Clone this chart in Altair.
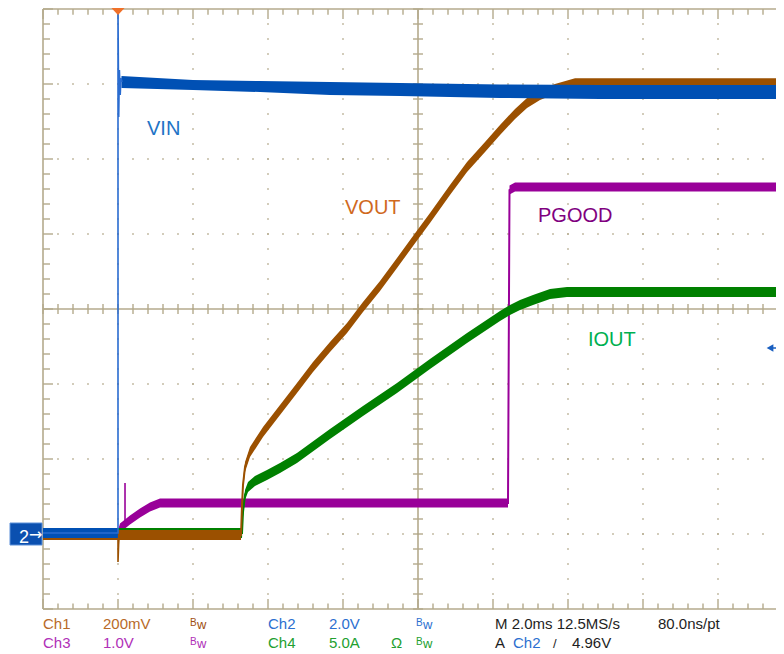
import numpy as np
import pandas as pd
import altair as alt

# ---------------- data (x: time in ms, 2 ms/div, trigger at 0; y: screen divisions 0..8) -------------
# Ch2  VIN  (noise envelope + thin trace with the trigger edge and ringing)
vin_seg = [0, 0, 1, 1, 1, 1, 1, 1, 1, 1]
vin_t = [-2.0, -0.003, 0.093, 2.0, 3.787, 5.653, 7.52, 10.187, 12.853, 17.76]
vin_lo = [0.947, 0.947, 6.947, 6.92, 6.893, 6.853, 6.84, 6.813, 6.8, 6.8]
vin_hi = [1.08, 1.08, 7.107, 7.053, 7.04, 7.027, 7.013, 6.995, 6.987, 6.987]
vin_edge_t = [-2.0, -0.003, 0.0, 0.0, 0.019, 0.037, 0.059, 0.08, 0.107]
vin_edge_d = [1.013, 1.013, 1.013, 8.0, 6.56, 7.187, 6.853, 7.08, 7.027]

# Ch1  VOUT
vout_t = [-2.0, 3.28, 3.307, 3.333, 3.387, 3.52, 3.867, 4.32, 4.773, 5.2, 5.653, 6.107, 6.533,
          6.987, 7.44, 7.867, 8.32, 8.853, 9.307, 9.787, 10.187, 10.587, 10.907, 11.253, 11.653,
          12.187, 17.76]
vout_d = [0.987, 0.987, 1.387, 1.653, 1.893, 2.093, 2.36, 2.653, 2.947, 3.227, 3.493, 3.747, 4.027,
          4.307, 4.613, 4.907, 5.213, 5.587, 5.893, 6.16, 6.387, 6.6, 6.747, 6.853, 6.933,
          7.01, 7.01]
vout_spike_t = [0.0, 0.0, 0.016, 0.032]
vout_spike_d = [0.987, 0.627, 0.853, 0.987]

# Ch4  IOUT
iout_t = [-2.0, 3.307, 3.333, 3.387, 3.467, 3.653, 3.973, 4.32, 4.773, 5.653, 6.533, 7.44, 8.32,
          9.307, 10.187, 10.453, 10.72, 11.067, 11.52, 11.973, 17.76]
iout_d = [1.013, 1.013, 1.293, 1.52, 1.627, 1.707, 1.787, 1.88, 2.013, 2.333, 2.64, 2.947, 3.267,
          3.613, 3.907, 3.987, 4.053, 4.12, 4.2, 4.227, 4.227]

# Ch3  PGOOD
pg_t = [-2.0, 0.0, 0.053, 0.32, 0.587, 0.853, 1.12, 10.4, 10.44, 10.587, 17.76]
pg_d = [0.987, 0.987, 1.08, 1.187, 1.28, 1.36, 1.413, 1.413, 5.587, 5.627, 5.627]
pg_spike_t = [0.187, 0.187]
pg_spike_d = [1.093, 1.68]

# noise half-widths (divisions)
VOUT_N, IOUT_N, PG_N = 0.067, 0.067, 0.06

# ---------------- styling ----------------
FONT = "Liberation Sans"
GRID = "#b4aa8c"
C_BLUE, C_BROWN, C_PURPLE, C_GREEN = "#0050b4", "#9b5000", "#990099", "#008000"

PLOT_W = 733                      # plot area width in px (75 px per 2 ms division)
T0 = -2.0
T1 = T0 + PLOT_W / 37.5
xs = alt.Scale(domain=[T0, T1], nice=False, zero=False)
ys = alt.Scale(domain=[0, 8], nice=False, zero=False)
X = lambda f: alt.X(f, scale=xs, axis=None)
Y = lambda f: alt.Y(f, scale=ys, axis=None)

# ---------------- graticule ----------------
minor_t = np.round(np.arange(T0, T1 + 1e-9, 0.4), 4)
minor_d = np.round(np.arange(0, 8 + 1e-9, 0.2), 4)
dots = []
for tv in [0, 2, 4, 6, 10, 12, 14, 16]:
    for dv in minor_d[1:-1]:
        dots.append({"t": tv, "d": dv})
for dv in [1, 2, 3, 5, 6, 7]:
    for tv in minor_t[1:]:
        dots.append({"t": tv, "d": dv})
dots_df = pd.DataFrame(dots)

rules = [
    {"t": T0, "t2": T0, "d": 0, "d2": 8},
    {"t": T0, "t2": T1, "d": 8, "d2": 8},
    {"t": T0, "t2": T1, "d": 0, "d2": 0},
    {"t": 8, "t2": 8, "d": 0, "d2": 8},
    {"t": T0, "t2": T1, "d": 4, "d2": 4},
]
ticks = []
for dv in minor_d:
    ticks.append({"t": 8 - 0.133, "t2": 8 + 0.133, "d": dv, "d2": dv})
    L = 0.267 if abs(dv - round(dv)) < 1e-6 else 0.187
    ticks.append({"t": T0, "t2": T0 + L, "d": dv, "d2": dv})
for tv in minor_t:
    ticks.append({"t": tv, "t2": tv, "d": 4 - 0.067, "d2": 4 + 0.067})
    L = 0.133 if abs((tv - T0) / 2 - round((tv - T0) / 2)) < 1e-6 else 0.075
    ticks.append({"t": tv, "t2": tv, "d": 8 - L, "d2": 8})
    ticks.append({"t": tv, "t2": tv, "d": 0, "d2": L})
rules_df = pd.DataFrame(rules)
ticks_df = pd.DataFrame(ticks)

grid_dots = alt.Chart(dots_df).mark_square(size=3, color=GRID, opacity=0.9).encode(x=X("t:Q"), y=Y("d:Q"))
grid_rules = alt.Chart(rules_df).mark_rule(color=GRID, strokeWidth=1.6).encode(
    x=X("t:Q"), x2="t2:Q", y=Y("d:Q"), y2="d2:Q")
grid_ticks = alt.Chart(ticks_df).mark_rule(color=GRID, strokeWidth=1.4).encode(
    x=X("t:Q"), x2="t2:Q", y=Y("d:Q"), y2="d2:Q")


def clipT(t):
    return [min(v, T1) for v in t]


def band(t, d, n, color):
    df = pd.DataFrame({"t": clipT(t), "lo": np.array(d) - n, "hi": np.array(d) + n})
    return alt.Chart(df).mark_area(color=color, opacity=1).encode(x=X("t:Q"), y=Y("lo:Q"), y2="hi:Q")


def trace(t, d, color, w=1.6):
    df = pd.DataFrame({"t": clipT(t), "d": d, "i": range(len(t))})
    return alt.Chart(df).mark_line(color=color, strokeWidth=w).encode(
        x=X("t:Q"), y=Y("d:Q"), order=alt.Order("i:Q"))


vin_df = pd.DataFrame({"t": clipT(vin_t), "lo": vin_lo, "hi": vin_hi, "seg": vin_seg})
vin_band = alt.Chart(vin_df).mark_area(color=C_BLUE).encode(
    x=X("t:Q"), y=Y("lo:Q"), y2="hi:Q", detail="seg:N")

traces = [
    band(pg_t, pg_d, PG_N, C_PURPLE), trace(pg_t, pg_d, C_PURPLE, 2),
    trace(pg_spike_t, pg_spike_d, C_PURPLE, 1.6),
    band(iout_t, iout_d, IOUT_N, C_GREEN), trace(iout_t, iout_d, C_GREEN, 2),
    band(vout_t, vout_d, VOUT_N, C_BROWN), trace(vout_t, vout_d, C_BROWN, 2),
    trace(vout_spike_t, vout_spike_d, C_BROWN, 1.6),
    vin_band, trace(vin_edge_t, vin_edge_d, "#2a6cd0", 1.6),
]

one = pd.DataFrame({"a": [0]})
OX, OY = 43, 9  # plot origin on the page


def txt(s, xa, ya, color, size=15, align="left", font=FONT):
    return alt.Chart(one).mark_text(text=s, font=font, fontSize=size, color=color, align=align,
                                    baseline="alphabetic").encode(x=alt.value(xa - OX), y=alt.value(ya - OY))


labels = [
    txt("VIN", 147, 135, "#1f74c6", 20),
    txt("VOUT", 345, 214, "#d0691e", 20),
    txt("PGOOD", 538, 222, "#80007f", 20),
    txt("IOUT", 588, 346, "#00b050", 20),
]

C_T1, C_T2, C_T3, C_T4, C_K = "#b86a28", "#2c6fd0", "#b030b8", "#22a030", "#1e1e1e"
readout = [
    txt("Ch1", 43, 629, C_T1), txt("200mV", 103, 629, C_T1),
    txt("B", 190, 626, "#a05010", 10), txt("w", 197, 629, "#a05010", 13),
    txt("Ch2", 268, 629, C_T2), txt("2.0V", 329, 629, C_T2),
    txt("B", 416, 626, C_T2, 10), txt("w", 423, 629, C_T2, 13),
    txt("M 2.0ms 12.5MS/s", 495, 629, C_K), txt("80.0ns/pt", 658, 629, C_K),
    txt("Ch3", 43, 648, C_T3), txt("1.0V", 103, 648, C_T3),
    txt("B", 190, 645, C_T3, 10), txt("w", 197, 648, C_T3, 13),
    txt("Ch4", 268, 648, C_T4), txt("5.0A", 329, 648, C_T4), txt("Ω", 391, 648, C_T4),
    txt("B", 416, 645, C_T4, 10), txt("w", 423, 648, C_T4, 13),
    txt("A", 495, 648, C_K), txt("Ch2", 513, 648, C_T2), txt("/", 553, 648, C_K, 13),
    txt("4.96V", 572, 648, C_K),
]

# channel-2 ground marker on the left, trigger markers
marker_box = alt.Chart(one).mark_rect(color="#0b50b0", stroke="#5b8fd8", strokeWidth=1).encode(
    x=alt.value(10 - OX), x2=alt.value(42 - OX), y=alt.value(523 - OY), y2=alt.value(545 - OY))
marker_txt = [txt("2", 19, 543, "white", 18), txt("→", 29, 540, "white", 16, font="DejaVu Sans")]
trig_pos = alt.Chart(one).mark_point(shape="M-1,-0.53L1,-0.53L0,0.53Z", filled=True, size=225,
                                     color="#f07028", opacity=1).encode(
    x=alt.value(118 - OX), y=alt.value(11 - OY))
trig_lvl = alt.Chart(one).mark_point(shape="triangle-left", filled=True, size=60,
                                     color="#1a5fc0", opacity=1).encode(
    x=alt.value(770 - OX), y=alt.value(348 - OY))
trig_lvl_line = alt.Chart(one).mark_rule(color="#1a5fc0", strokeWidth=1.5).encode(
    x=alt.value(772 - OX), x2=alt.value(776 - OX), y=alt.value(348 - OY))

chart = alt.layer(
    grid_dots, grid_rules, grid_ticks, *traces, *labels, *readout,
    marker_box, *marker_txt, trig_pos, trig_lvl, trig_lvl_line,
).properties(
    width=PLOT_W, height=600, autosize="none",
    padding={"left": 35, "top": 1, "right": 0, "bottom": 42},
    background="white",
).configure_view(stroke=None)

chart.save("out.html", embed_options={"renderer": "svg", "actions": False})
